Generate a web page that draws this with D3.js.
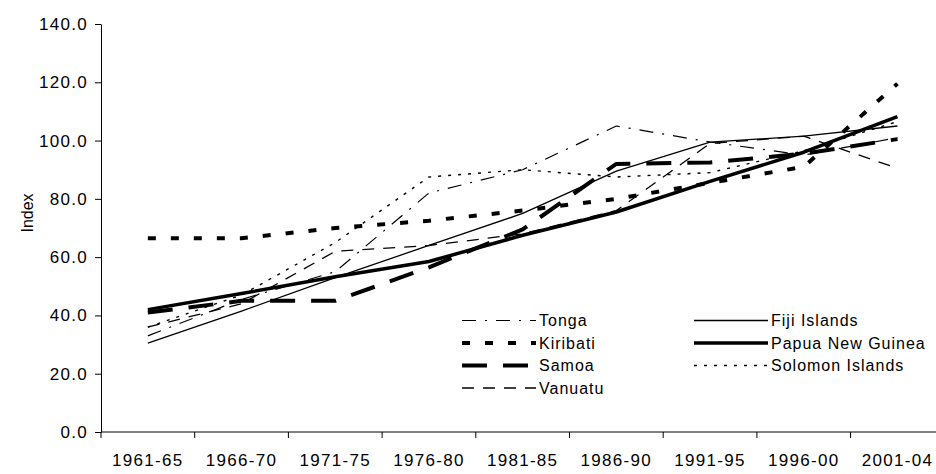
<!DOCTYPE html>
<html>
<head>
<meta charset="utf-8">
<script src="https://cdn.jsdelivr.net/npm/d3@7"></script>
<style>
  body { margin: 0; background: #fff; }
  svg text { font-family: "Liberation Sans", Arial, sans-serif; fill: #000; }
</style>
</head>
<body>
<svg id="chart" width="936" height="474"></svg>
<script>
// periods on the x axis
const periods = ["1961-65", "1966-70", "1971-75", "1976-80", "1981-85", "1986-90", "1991-95", "1996-00", "2001-04"];
const yTicks = [0, 20, 40, 60, 80, 100, 120, 140];

// index values
const tonga    = [33.0, 45.5, 55.0, 82.0, 90.0, 105.0, 99.5, 95.0, 101.0];
const kiribati = [66.5, 66.5, 70.0, 72.5, 76.0, 80.0, 85.5, 91.0, 119.5];
const samoa    = [41.0, 45.0, 45.0, 56.5, 69.5, 92.0, 92.5, 95.5, 100.5];
const vanuatu  = [36.0, 44.0, 62.0, 64.0, 68.0, 76.0, 99.0, 101.5, 90.5];
const fiji     = [30.5, 41.5, 53.0, 64.0, 75.0, 89.5, 99.5, 101.5, 105.0];
const png      = [42.0, 47.5, 53.3, 58.5, 67.5, 75.5, 86.0, 96.0, 108.2];
const solomon  = [36.0, 47.0, 65.0, 87.5, 90.0, 87.5, 89.0, 96.5, 106.5];

const series = [
  {name: "Tonga", values: tonga, width: 1.2, dash: "14,9,2,9", col: 0, row: 0},
  {name: "Kiribati", values: kiribati, width: 4, dash: "8,15", col: 0, row: 1},
  {name: "Samoa", values: samoa, width: 4, dash: "25,16", col: 0, row: 2},
  {name: "Vanuatu", values: vanuatu, width: 1.3, dash: "12,9", col: 0, row: 3},
  {name: "Fiji Islands", values: fiji, width: 1.3, dash: null, col: 1, row: 0},
  {name: "Papua New Guinea", values: png, width: 3.5, dash: null, col: 1, row: 1},
  {name: "Solomon Islands", values: solomon, width: 1.4, dash: "3,7", col: 1, row: 2}
];

const svg = d3.select("#chart");
const plotLeft = 101, plotTop = 24, plotBottom = 432, step = 93.7;

const x = d3.scaleBand()
  .domain(periods)
  .range([plotLeft, plotLeft + step * periods.length]);
const y = d3.scaleLinear()
  .domain([0, 140])
  .range([plotBottom, plotTop]);

// y axis
const yAxis = svg.append("g")
  .attr("transform", `translate(${plotLeft},0)`)
  .call(d3.axisLeft(y).tickValues(yTicks).tickFormat(d3.format(".1f")).tickSize(6).tickSizeOuter(0));
yAxis.selectAll("text")
  .attr("x", -13)
  .style("font-size", "17px")
  .style("letter-spacing", "1.3px")
  .style("font-family", "Liberation Sans, Arial, sans-serif");
yAxis.select(".domain").attr("stroke", "#000");

// x axis: ticks sit between categories, labels in the middle
const xg = svg.append("g").attr("transform", `translate(0,${plotBottom})`);
xg.append("line")
  .attr("x1", plotLeft).attr("x2", 936)
  .attr("stroke", "#000");
xg.selectAll("line.tick")
  .data(periods).enter()
  .append("line")
  .attr("class", "tick")
  .attr("x1", d => x(d)).attr("x2", d => x(d))
  .attr("y1", 0).attr("y2", 6)
  .attr("stroke", "#000");
xg.selectAll("text")
  .data(periods).enter()
  .append("text")
  .attr("x", d => x(d) + x.bandwidth() / 2)
  .attr("y", 34)
  .attr("text-anchor", "middle")
  .style("font-size", "17px")
  .style("letter-spacing", "1.3px")
  .text(d => d);

svg.append("text")
  .attr("transform", "translate(33,213) rotate(-90)")
  .attr("text-anchor", "middle")
  .style("font-size", "16px")
  .text("Index");

// the lines
const line = d3.line()
  .x((d, i) => x(periods[i]) + x.bandwidth() / 2)
  .y(d => y(d));

svg.append("g")
  .selectAll("path")
  .data(series).enter()
  .append("path")
  .attr("d", d => line(d.values))
  .attr("fill", "none")
  .attr("stroke", "#000")
  .attr("stroke-width", d => d.width)
  .attr("stroke-dasharray", d => d.dash)
  .attr("stroke-linejoin", "round");

// legend
const legX = [462, 694], legLen = 74, legY = 320.5, legStep = 22.5;
const leg = svg.append("g")
  .selectAll("g")
  .data(series).enter()
  .append("g")
  .attr("transform", d => `translate(${legX[d.col]},${legY + d.row * legStep})`);
leg.append("line")
  .attr("x1", 0).attr("x2", legLen)
  .attr("stroke", "#000")
  .attr("stroke-width", d => d.width)
  .attr("stroke-dasharray", d => d.dash);
leg.append("text")
  .attr("x", legLen + 3)
  .attr("dy", "0.36em")
  .style("font-size", "16px")
  .style("letter-spacing", "1px")
  .text(d => d.name);
</script>
</body>
</html>
